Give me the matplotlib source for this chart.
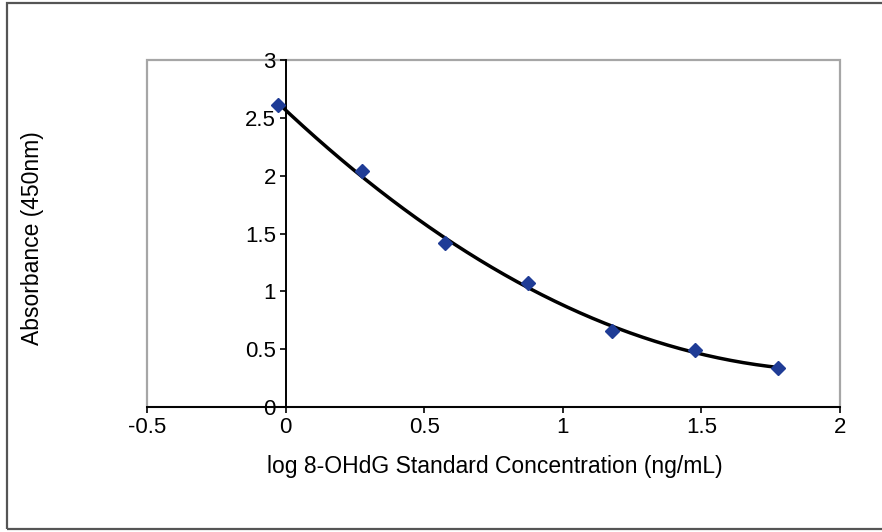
import numpy as np
import matplotlib
matplotlib.use("Agg")
import matplotlib.pyplot as plt
from matplotlib.patches import Rectangle

plt.rcParams['font.family'] = ['Liberation Sans', 'DejaVu Sans']

# standard curve data
logConc = [-0.027, 0.274, 0.574, 0.875, 1.176, 1.477, 1.778]
absorb = [2.61, 2.04, 1.42, 1.07, 0.66, 0.49, 0.34]
xTicks = [-0.5, 0, 0.5, 1, 1.5, 2]
yTicks = [0, 0.5, 1, 1.5, 2, 2.5, 3]
xTickLabels = ['-0.5', '0', '0.5', '1', '1.5', '2']
yTickLabels = ['0', '0.5', '1', '1.5', '2', '2.5', '3']

fig = plt.figure(figsize=(8.82, 5.32), dpi=100)
# outer chart border
fig.patches.append(Rectangle((7/882, 3/532), 1.0, 526/532, transform=fig.transFigure,
                             fill=False, edgecolor='#555555', linewidth=1.6))

ax = fig.add_axes([147/882, 125/532, 693/882, 347/532])

# second order polynomial trendline (like excel)
coef = np.polyfit(logConc, absorb, 2)
xFit = np.linspace(logConc[0], logConc[-1], 200)
ax.plot(xFit, np.polyval(coef, xFit), color='black', linewidth=2.5, zorder=3)
ax.plot(logConc, absorb, linestyle='none', marker='D', markersize=7.5,
        color='#1F3C96', zorder=4)

ax.set_xlim(-0.5, 2)
ax.set_ylim(0, 3)

# gray plot area frame
ax.add_patch(Rectangle((0, 0), 1, 1, transform=ax.transAxes, fill=False,
                       edgecolor='#A6A6A6', linewidth=1.6, zorder=1, clip_on=False))
ax.spines['top'].set_visible(False)
ax.spines['right'].set_visible(False)
ax.spines['left'].set_position(('data', 0))
ax.spines['left'].set_linewidth(1.4)
ax.spines['bottom'].set_linewidth(1.4)

ax.set_xticks(xTicks)
ax.set_xticklabels(xTickLabels)
ax.set_yticks(yTicks)
ax.set_yticklabels(yTickLabels)
ax.tick_params(axis='both', direction='out', length=4, width=1.2, labelsize=16, pad=3)

fig.text(495/882, 1 - 467/532, 'log 8-OHdG Standard Concentration (ng/mL)',
         ha='center', va='center', fontsize=16.5)
fig.text(33/882, 1 - 238/532, 'Absorbance (450nm)', rotation=90,
         ha='center', va='center', fontsize=16.5)

fig.savefig('out.png', dpi=100)
